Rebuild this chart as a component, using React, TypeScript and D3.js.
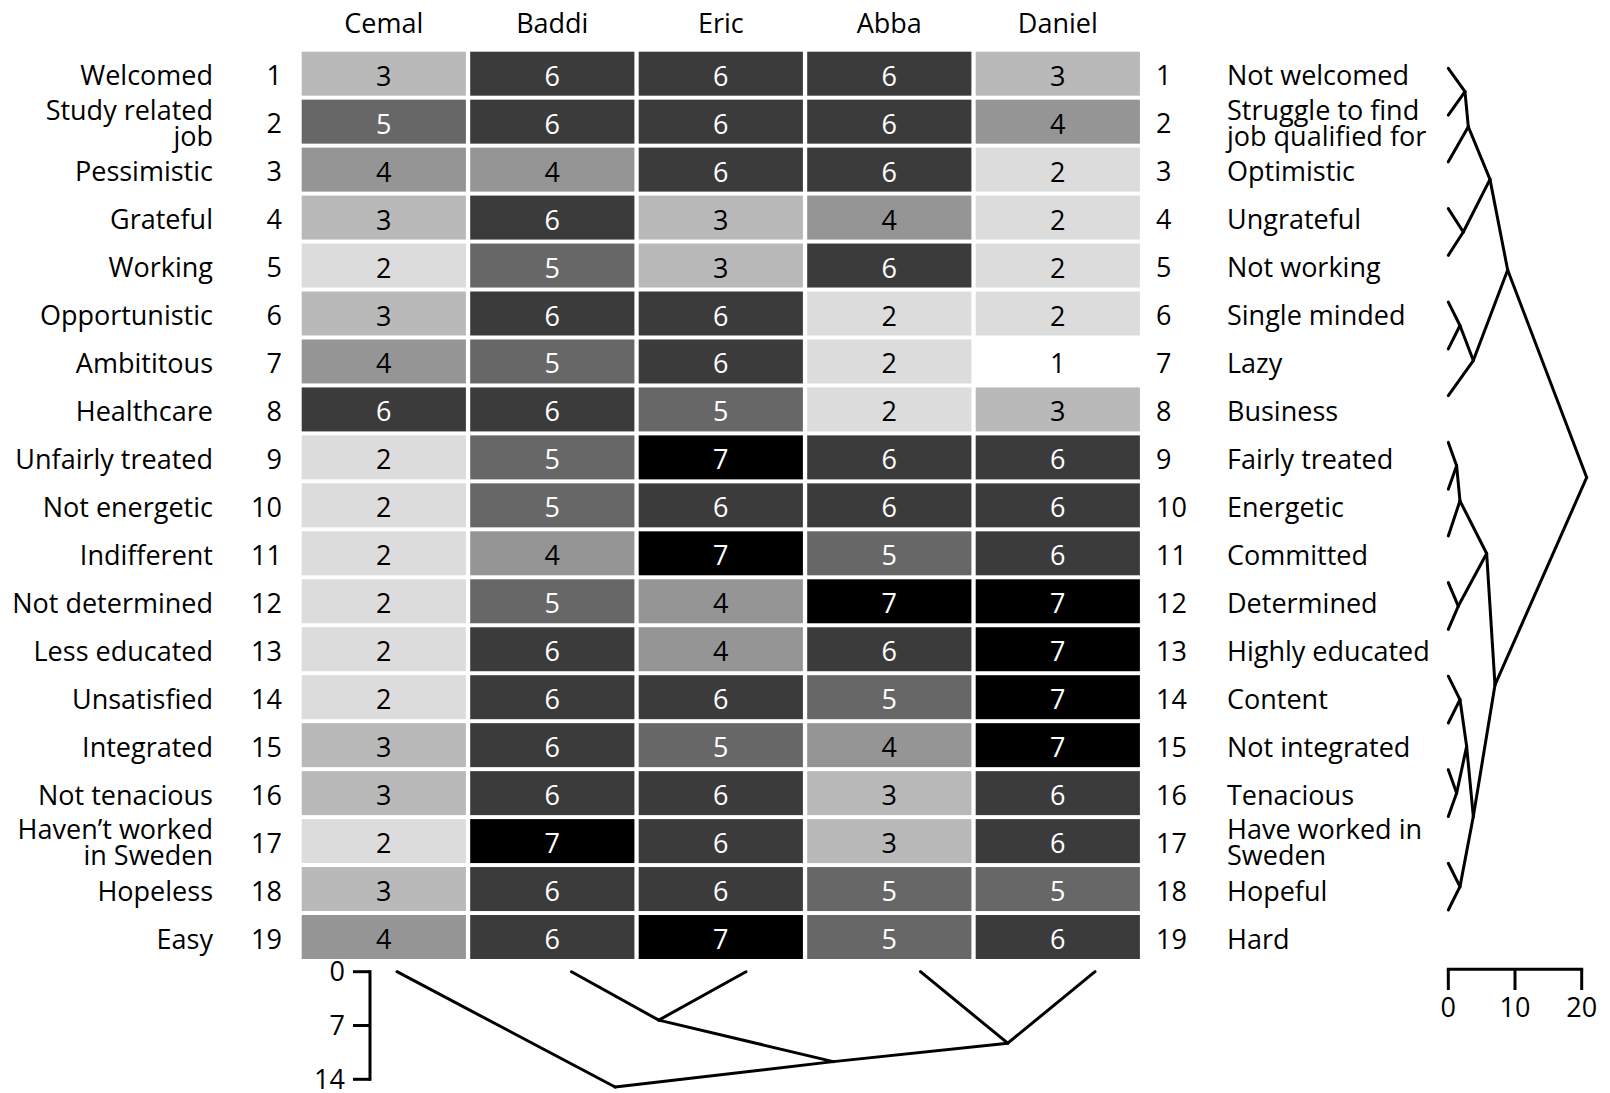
import React from "react";
import * as d3 from "d3";

const people = ["Cemal", "Baddi", "Eric", "Abba", "Daniel"];

const leftLabels = [
  "Welcomed", "Study related\njob", "Pessimistic", "Grateful", "Working",
  "Opportunistic", "Ambititous", "Healthcare", "Unfairly treated", "Not energetic",
  "Indifferent", "Not determined", "Less educated", "Unsatisfied", "Integrated",
  "Not tenacious", "Haven\u2019t worked\nin Sweden", "Hopeless", "Easy",
];

const rightLabels = [
  "Not welcomed", "Struggle to find\njob qualified for", "Optimistic", "Ungrateful", "Not working",
  "Single minded", "Lazy", "Business", "Fairly treated", "Energetic",
  "Committed", "Determined", "Highly educated", "Content", "Not integrated",
  "Tenacious", "Have worked in\nSweden", "Hopeful", "Hard",
];

// ratings per row: Cemal, Baddi, Eric, Abba, Daniel
const ratings: number[][] = [
  [3, 6, 6, 6, 3],
  [5, 6, 6, 6, 4],
  [4, 4, 6, 6, 2],
  [3, 6, 3, 4, 2],
  [2, 5, 3, 6, 2],
  [3, 6, 6, 2, 2],
  [4, 5, 6, 2, 1],
  [6, 6, 5, 2, 3],
  [2, 5, 7, 6, 6],
  [2, 5, 6, 6, 6],
  [2, 4, 7, 5, 6],
  [2, 5, 4, 7, 7],
  [2, 6, 4, 6, 7],
  [2, 6, 6, 5, 7],
  [3, 6, 5, 4, 7],
  [3, 6, 6, 3, 6],
  [2, 7, 6, 3, 6],
  [3, 6, 6, 5, 5],
  [4, 6, 7, 5, 6],
];

// linkage for rows: [childA, childB, height]; leaves 0..18, new nodes from 19
const rowMerges: [number, number, number][] = [
  [0, 1, 2.5],
  [19, 2, 3.0],
  [3, 4, 2.25],
  [20, 21, 6.25],
  [5, 6, 1.75],
  [23, 7, 3.75],
  [22, 24, 8.9],
  [8, 9, 1.25],
  [26, 10, 1.75],
  [11, 12, 1.5],
  [27, 28, 5.75],
  [13, 14, 1.75],
  [15, 16, 1.25],
  [30, 31, 2.75],
  [17, 18, 1.75],
  [32, 33, 3.75],
  [29, 34, 7.0],
  [25, 35, 20.75],
];

// linkage for columns; leaves 0..4, new nodes from 5
const colMerges: [number, number, number][] = [
  [1, 2, 6.3],
  [3, 4, 9.3],
  [5, 6, 11.7],
  [0, 7, 15.0],
];

const rightTicks = [0, 10, 20];
const bottomTicks = [0, 7, 14];

const grays: Record<number, string> = {
  1: "#ffffff",
  2: "#dcdcdc",
  3: "#b9b9b9",
  4: "#959595",
  5: "#676767",
  6: "#3b3b3b",
  7: "#000000",
};

const FONT = "'Open Sans', sans-serif";
const FS = 27;

function layoutTree(nLeaves: number, merges: [number, number, number][], leafPos: (i: number) => number) {
  const pos: number[] = [];
  const h: number[] = [];
  for (let i = 0; i < nLeaves; i++) {
    pos.push(leafPos(i));
    h.push(0);
  }
  const segs: { p0: number; h0: number; p1: number; h1: number }[] = [];
  merges.forEach(([a, b, height]) => {
    const p = (pos[a] + pos[b]) / 2;
    pos.push(p);
    h.push(height);
    segs.push({ p0: p, h0: height, p1: pos[a], h1: h[a] });
    segs.push({ p0: p, h0: height, p1: pos[b], h1: h[b] });
  });
  return segs;
}

function MultiText({ x, y, text, anchor }: { x: number; y: number; text: string; anchor: string }) {
  const lines = text.split("\n");
  if (lines.length === 1) {
    return (
      <text x={x} y={y + 11.5} textAnchor={anchor} fontFamily={FONT} fontSize={FS} fill="#000">
        {text}
      </text>
    );
  }
  return (
    <text x={x} y={y - 1.8} textAnchor={anchor} fontFamily={FONT} fontSize={FS} fill="#000">
      {lines.map((l, i) => (
        <tspan key={i} x={x} dy={i === 0 ? 0 : 26}>
          {l}
        </tspan>
      ))}
    </text>
  );
}

export default function App() {
  const rowIdx = d3.range(ratings.length);
  const x = d3.scaleBand<string>().domain(people).range([301.7, 1139.9]).paddingInner(0.0255).paddingOuter(0);
  const y = d3.scaleBand<number>().domain(rowIdx).range([51.7, 959]).paddingInner(0.083).paddingOuter(0);

  // right dendrogram scales
  const leafY = d3.scalePoint<number>().domain(rowIdx).range([68.3, 910]);
  const hx = d3.scaleLinear().domain([0, 20]).range([1448.3, 1581.7]);
  const rowSegs = layoutTree(ratings.length, rowMerges, (i) => leafY(i) as number);

  // bottom dendrogram scales
  const colIdx = d3.range(people.length);
  const leafX = d3.scalePoint<number>().domain(colIdx).range([397, 1095]);
  const hy = d3.scaleLinear().domain([0, 14]).range([971.7, 1079.3]);
  const colSegs = layoutTree(people.length, colMerges, (i) => leafX(i) as number);

  const bw = x.bandwidth();
  const bh = y.bandwidth();

  return (
    <svg
      width={1610}
      height={1093}
      style={{ position: "absolute", left: 0, top: 0, background: "#fff" }}
      xmlns="http://www.w3.org/2000/svg"
    >
      <rect x={0} y={0} width={1610} height={1093} fill="#fff" />
      {/* column headers */}
      {people.map((p) => (
        <text key={p} x={(x(p) as number) + bw / 2} y={32.5} textAnchor="middle" fontFamily={FONT} fontSize={FS} fill="#000">
          {p}
        </text>
      ))}
      {/* cells */}
      {ratings.map((row, ri) =>
        row.map((v, ci) => {
          const cx = x(people[ci]) as number;
          const cy = y(ri) as number;
          return (
            <g key={`${ri}-${ci}`}>
              <rect x={cx} y={cy} width={bw} height={bh} fill={grays[v]} />
              <text
                x={cx + bw / 2}
                y={cy + bh / 2 + 12}
                textAnchor="middle"
                fontFamily={FONT}
                fontSize={FS}
                fill={v >= 5 ? "#fff" : "#000"}
              >
                {v}
              </text>
            </g>
          );
        })
      )}
      {/* row labels */}
      {rowIdx.map((i) => {
        const cy = (y(i) as number) + bh / 2;
        return (
          <g key={`lab-${i}`}>
            <MultiText x={213} y={cy} text={leftLabels[i]} anchor="end" />
            <text x={282} y={cy + 11.5} textAnchor="end" fontFamily={FONT} fontSize={FS} fill="#000">
              {i + 1}
            </text>
            <text x={1156} y={cy + 11.5} textAnchor="start" fontFamily={FONT} fontSize={FS} fill="#000">
              {i + 1}
            </text>
            <MultiText x={1227} y={cy} text={rightLabels[i]} anchor="start" />
          </g>
        );
      })}
      {/* right dendrogram */}
      <g stroke="#000" strokeWidth={3} strokeLinecap="round" fill="none">
        {rowSegs.map((s, i) => (
          <line key={`rs-${i}`} x1={hx(s.h0)} y1={s.p0} x2={hx(s.h1)} y2={s.p1} />
        ))}
      </g>
      {/* right axis */}
      <g stroke="#000" strokeWidth={3} fill="none">
        <line x1={hx(0)} x2={hx(20)} y1={969.3} y2={969.3} strokeLinecap="square" />
        {rightTicks.map((t) => (
          <line key={`rt-${t}`} x1={hx(t)} x2={hx(t)} y1={969.3} y2={990} />
        ))}
      </g>
      {rightTicks.map((t) => (
        <text key={`rtl-${t}`} x={hx(t)} y={1016.5} textAnchor="middle" fontFamily={FONT} fontSize={FS} fill="#000">
          {t}
        </text>
      ))}
      {/* bottom dendrogram */}
      <g stroke="#000" strokeWidth={3} strokeLinecap="round" fill="none">
        {colSegs.map((s, i) => (
          <line key={`cs-${i}`} x1={s.p0} y1={hy(s.h0)} x2={s.p1} y2={hy(s.h1)} />
        ))}
      </g>
      {/* bottom axis */}
      <g stroke="#000" strokeWidth={3} fill="none">
        <line x1={370} x2={370} y1={hy(0)} y2={hy(14)} strokeLinecap="square" />
        {bottomTicks.map((t) => (
          <line key={`bt-${t}`} x1={353} x2={370} y1={hy(t)} y2={hy(t)} />
        ))}
      </g>
      {bottomTicks.map((t) => (
        <text key={`btl-${t}`} x={345} y={hy(t) + 9.5} textAnchor="end" fontFamily={FONT} fontSize={FS} fill="#000">
          {t}
        </text>
      ))}
    </svg>
  );
}
